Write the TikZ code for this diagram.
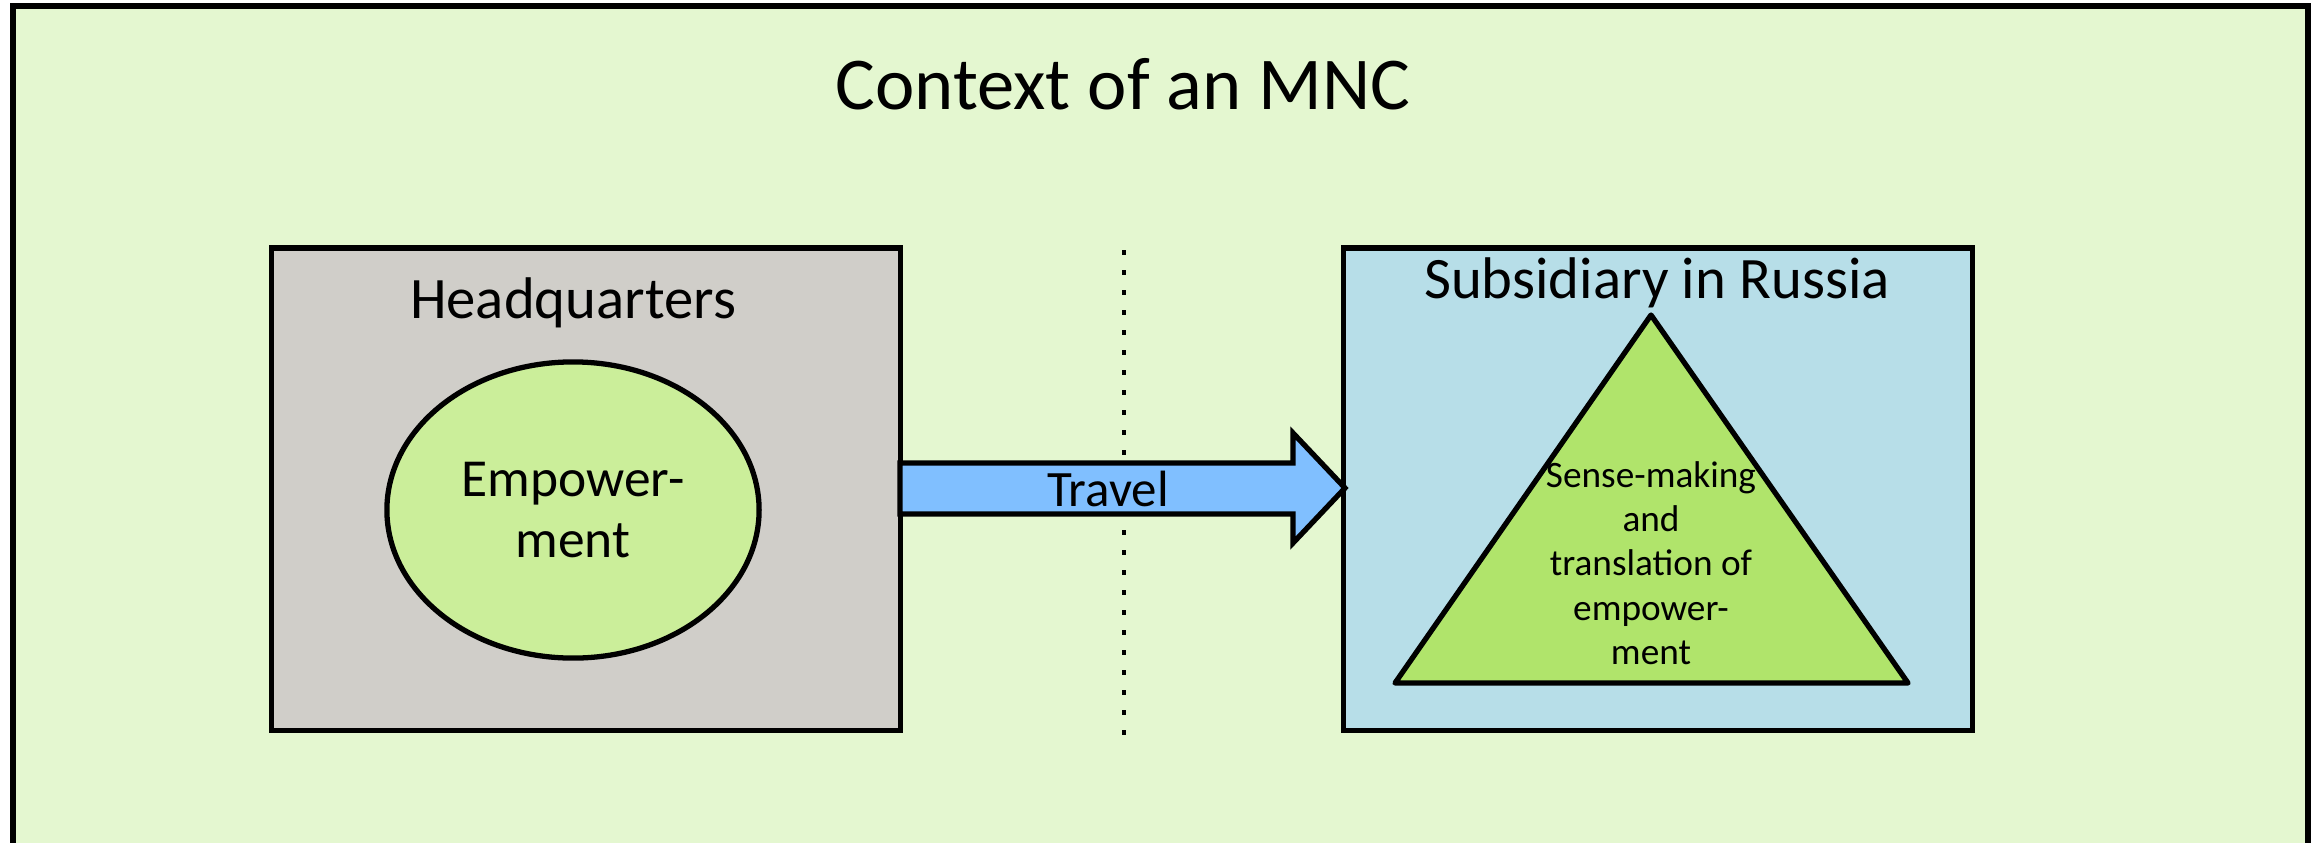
\documentclass[tikz,border=0pt]{standalone}
\usepackage{fontspec}
\setmainfont{Carlito}
\usetikzlibrary{shapes.geometric,calc}
\definecolor{bgG}{RGB}{228,247,208}
\definecolor{hqG}{RGB}{208,206,201}
\definecolor{ellG}{RGB}{203,238,154}
\definecolor{subB}{RGB}{183,222,232}
\definecolor{triG}{RGB}{176,228,107}
\definecolor{arrB}{RGB}{128,191,255}
\begin{document}
\begin{tikzpicture}[x=0.01cm,y=-0.01cm,
  outline/.style={draw=black,line width=1.5pt},
  bigbox/.style={outline,rectangle,minimum width=6.28cm,minimum height=4.82cm,inner sep=0pt},
  heading/.style={anchor=base,inner sep=0pt,font=\fontsize{16.7}{20}\selectfont},
  dotline/.style={line width=0.045cm,dash pattern=on 0.045cm off 0.155cm}]
\useasboundingbox (0,0) rectangle (2318,842);
\clip (0,0) rectangle (2318,842);
\fill[white] (0,0) rectangle (2318,842);
\draw[outline,line width=1.5pt,fill=bgG] (13,6) rectangle (2308,900);
\node[anchor=base,inner sep=0pt,font=\fontsize{21.2}{25}\selectfont] (title) at (1123,109) {Context of an MNC};
% dotted divider
\coordinate (dtop) at (1124,250);
\coordinate (dbot) at (1124,740);
\draw[dotline] (dtop) -- (dbot);
% boxes
\node[bigbox,fill=hqG] (hq) at (586,489) {};
\node[bigbox,fill=subB] (sub) at (1658,489) {};
\node[heading] (hqlabel) at (573,318) {Headquarters};
\node[heading] (sublabel) at (1657,298) {Subsidiary in Russia};
% ellipse
\node[outline,ellipse,fill=ellG,minimum width=3.72cm,minimum height=2.96cm,inner sep=0pt,
      align=center,font=\fontsize{15.2}{17.3}\selectfont] (emp) at (573,510) {Empower-\\ment};
% triangle
\coordinate (apex) at (1651,315);
\coordinate (tl) at (1395,683);
\coordinate (tr) at (1908,683);
\draw[outline,fill=triG,line join=round] (apex) -- (tl) -- (tr) -- cycle;
\node[align=center,inner sep=0pt,font=\fontsize{10.6}{12.6}\selectfont] (sense) at (1651,563)
  {Sense-making\\and\\translation of\\empower-\\ment};
% travel arrow
\coordinate (a1) at (900,463);
\coordinate (a2) at (1293,463);
\coordinate (a3) at (1293,433);
\coordinate (tip) at (1345,488);
\coordinate (a5) at (1293,543);
\coordinate (a6) at (1293,514);
\coordinate (a7) at (900,514);
\draw[outline,fill=arrB,line join=miter] (a1) -- (a2) -- (a3) -- (tip) -- (a5) -- (a6) -- (a7) -- cycle;
\node[anchor=base,inner sep=0pt,font=\fontsize{14.5}{17}\selectfont] (travel) at (1108,506) {Travel};
\end{tikzpicture}
\end{document}
